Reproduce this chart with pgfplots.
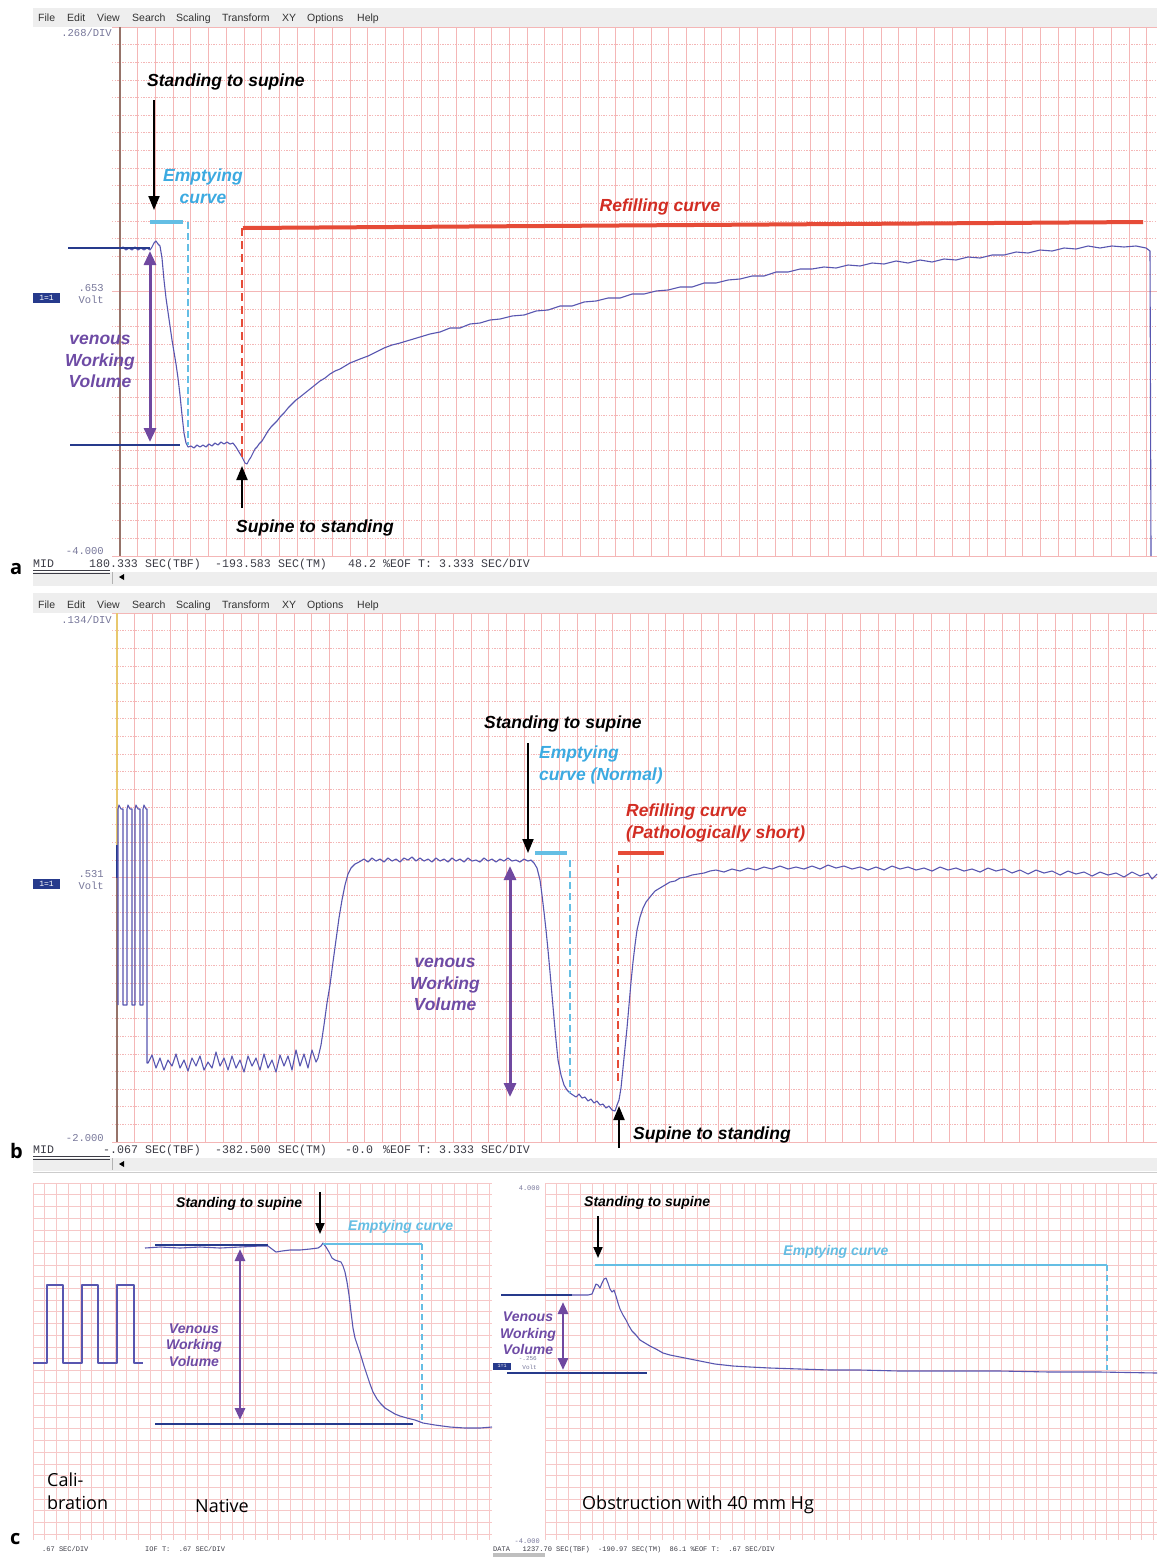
\documentclass[border=0pt]{standalone}
\usepackage{pgfplots}
\pgfplotsset{compat=1.18}
\usetikzlibrary{arrows.meta}
\usepackage{fontspec}
\setmainfont{Liberation Sans}
\newfontfamily\mono{Liberation Mono}
\newfontfamily\lab{Open Sans}

\definecolor{trace}{RGB}{88,86,176}
\definecolor{navy}{RGB}{38,58,140}
\definecolor{vpurple}{RGB}{112,72,160}
\definecolor{vtext}{RGB}{110,75,165}
\definecolor{cyanl}{RGB}{100,190,228}
\definecolor{cyant}{RGB}{60,170,225}
\definecolor{redl}{RGB}{230,75,55}
\definecolor{redt}{RGB}{210,45,35}
\definecolor{gridp}{RGB}{244,182,182}
\definecolor{gridc}{RGB}{246,200,200}
\definecolor{axbrown}{RGB}{150,115,105}
\definecolor{axyellow}{RGB}{232,200,110}
\definecolor{bargray}{RGB}{238,238,238}
\definecolor{labgray}{RGB}{120,120,155}
\definecolor{menugray}{RGB}{50,50,50}
\definecolor{stat}{RGB}{60,60,70}

\pgfplotsset{
  panel/.style={scale only axis, y dir=reverse, clip=false,
    axis line style={draw=none}, tick style={draw=none},
    major tick length=0pt, minor tick length=0pt,
    xticklabels={}, yticklabels={}, scaled ticks=false, grid=both,
    major grid style={gridp, line width=0.75pt},
    minor grid style={gridp, line width=0.7pt, dash pattern=on 1.3pt off 1.3pt}},
  cpanel/.style={panel, major grid style={gridc, line width=0.6pt}},
  tr/.style={draw=trace, line width=1.1pt, no marks, line join=round},
}
\newcommand{\ann}{\bfseries\itshape\fontsize{17.5}{21}\selectfont}
\newcommand{\annc}{\bfseries\itshape\fontsize{14}{16.5}\selectfont}
\newcommand{\stf}{\mono\fontsize{11.6}{11.6}\selectfont}
\newcommand{\lbf}{\mono\fontsize{10.5}{10.5}\selectfont}

\begin{document}
\begin{tikzpicture}[every node/.style={inner sep=0pt}]
\begin{scope}[x=1pt,y=-1pt]
\path[use as bounding box] (0,0) rectangle (1157,1557);
\fill[white] (0,0) rectangle (1157,1557);
% window bars
\fill[bargray] (33,8) rectangle (1157,27);
\fill[bargray] (33,572) rectangle (1157,586);
\fill[bargray] (33,593) rectangle (1157,613);
\fill[bargray] (33,1158) rectangle (1157,1171);
\draw[gray!60, line width=0.8pt] (112,572) -- (112,584);
\draw[gray!60, line width=0.8pt] (112,1158) -- (112,1170);
\fill[black] (119,577) -- (124,574) -- (124,580) -- cycle;
\fill[black] (119,1164) -- (124,1161) -- (124,1167) -- cycle;
\foreach \x/\w in {38/File,67/Edit,97/View,132/Search,176/Scaling,222/Transform,282/XY,307/Options,357/Help}{
  \node[anchor=base west, font=\fontsize{10.5}{10.5}\selectfont, text=menugray] at (\x,22) {\w};
  \node[anchor=base west, font=\fontsize{10.5}{10.5}\selectfont, text=menugray] at (\x,608) {\w};
}
% panel labels
\node[anchor=base west, font=\lab\bfseries\fontsize{20}{20}\selectfont] at (10,574) {a};
\node[anchor=base west, font=\lab\bfseries\fontsize{20}{20}\selectfont] at (10,1158) {b};
\node[anchor=base west, font=\lab\bfseries\fontsize{20}{20}\selectfont] at (10,1544) {c};
% panel a side labels
\node[anchor=base east, font=\lbf, text=labgray] at (112,37) {.268/DIV};
\node[anchor=base east, font=\lbf, text=labgray] at (104,291) {.653};
\node[anchor=base east, font=\lbf, text=labgray] at (104,303) {Volt};
\node[anchor=base east, font=\lbf, text=labgray] at (104,554) {-4.000};
\node[fill=navy, text=white, font=\mono\fontsize{8}{8}\selectfont, minimum width=27pt, minimum height=10pt] at (46.5,298) {1=1};
% panel b side labels
\node[anchor=base east, font=\lbf, text=labgray] at (112,623) {.134/DIV};
\node[anchor=base east, font=\lbf, text=labgray] at (104,877) {.531};
\node[anchor=base east, font=\lbf, text=labgray] at (104,889) {Volt};
\node[anchor=base east, font=\lbf, text=labgray] at (104,1141) {-2.000};
\node[fill=navy, text=white, font=\mono\fontsize{8}{8}\selectfont, minimum width=27pt, minimum height=10pt] at (46.5,884) {1=1};
% status bar a
\foreach \y in {567}{
\node[anchor=base west, font=\stf, text=stat] at (33,\y) {MID};
\node[anchor=base west, font=\stf, text=stat] at (89,\y) {180.333};
\node[anchor=base west, font=\stf, text=stat] at (145,\y) {SEC(TBF)};
\node[anchor=base west, font=\stf, text=stat] at (215,\y) {-193.583};
\node[anchor=base west, font=\stf, text=stat] at (278,\y) {SEC(TM)};
\node[anchor=base west, font=\stf, text=stat] at (348,\y) {48.2};
\node[anchor=base west, font=\stf, text=stat] at (383,\y) {\%EOF};
\node[anchor=base west, font=\stf, text=stat] at (418,\y) {T:};
\node[anchor=base west, font=\stf, text=stat] at (439,\y) {3.333};
\node[anchor=base west, font=\stf, text=stat] at (481,\y) {SEC/DIV};
}
\draw[stat, line width=0.6pt] (33,570) -- (110,570) (33,573) -- (110,573);
% status bar b
\foreach \y in {1153}{
\node[anchor=base west, font=\stf, text=stat] at (33,\y) {MID};
\node[anchor=base west, font=\stf, text=stat] at (103,\y) {-.067};
\node[anchor=base west, font=\stf, text=stat] at (145,\y) {SEC(TBF)};
\node[anchor=base west, font=\stf, text=stat] at (215,\y) {-382.500};
\node[anchor=base west, font=\stf, text=stat] at (278,\y) {SEC(TM)};
\node[anchor=base west, font=\stf, text=stat] at (345,\y) {-0.0};
\node[anchor=base west, font=\stf, text=stat] at (383,\y) {\%EOF};
\node[anchor=base west, font=\stf, text=stat] at (418,\y) {T:};
\node[anchor=base west, font=\stf, text=stat] at (439,\y) {3.333};
\node[anchor=base west, font=\stf, text=stat] at (481,\y) {SEC/DIV};
}
\draw[stat, line width=0.6pt] (33,1156) -- (110,1156) (33,1159) -- (110,1159);
\draw[gray!40, line width=0.8pt] (33,1172) -- (1157,1172);
% status bar c
\node[anchor=base west, font=\mono\fontsize{7}{7}\selectfont, text=stat] at (42,1551) {.67 SEC/DIV};
\node[anchor=base west, font=\mono\fontsize{7}{7}\selectfont, text=stat] at (145,1551) {IOF T:\ \ .67 SEC/DIV};
\node[anchor=base west, font=\mono\fontsize{7}{7}\selectfont, text=stat] at (493,1551) {DATA\ \ \ 1237.70 SEC(TBF)\ \ -190.97 SEC(TM)\ \ 86.1 \%EOF T:\ \ .67 SEC/DIV};
\fill[gray!50] (493,1553) rectangle (545,1557);
\end{scope}

% ================= PANEL A =================
\begin{axis}[panel, at={(112pt,-27pt)}, anchor=north west, width=1045pt, height=529pt,
  xmin=112, xmax=1157, ymin=27, ymax=556,
  xtick={120,137.7,...,1157}, ytick={27,291.5,556}, minor ytick={44.633,62.267,...,540}]
\draw[axbrown, line width=1.2pt] (120,27) -- (120,556);
\addplot[tr] coordinates {(120,249)(123,247)(126,250)(129,248)(132,250)(135,247)(138,250)(141,248)(144,250)(147,248)(150,250)(152,247)(154,243)(156,241)(158,244)(160,246)(162,258)(164,280)(166,298)(168,312)(170,326)(172,340)(174,352)(176,364)(178,378)(180,395)(182,415)(184,433)(186,443)(188,447)(191,446)(194,448)(197,445)(200,447)(203,445)(206,447)(209,444)(212,446)(215,443)(218,445)(221,442)(224,444)(227,442)(230,444)(233,443)(236,447)(239,452)(242,457)(245,463)(247,464)(249,460)(251,457)(253,453)(255,449)(257,447)(259,444)(262,441)(265,436)(268,431)(271,427)(274,424)(277,421)(280,417)(284,413)(288,408)(292,404)(296,400)(300,397)(305,393)(310,389)(315,385)(320,381)(325,378)(330,374)(335,371)(340,369)(345,366)(350,363)(355,361)(360,359)(368,356)(376,352)(384,348)(392,345)(400,343)(410,340)(420,337)(430,334)(440,332)(450,328)(460,328)(470,324)(480,323)(490,320)(500,319)(512,316)(524,315)(536,311)(548,310)(560,306)(572,306)(584,302)(596,301)(608,298)(620,298)(632,294)(644,294)(656,291)(668,290)(680,287)(692,287)(704,283)(716,283)(728,280)(740,279)(752,276)(764,276)(776,272)(788,272)(800,269)(812,269)(824,267)(836,268)(848,265)(860,266)(872,263)(884,264)(896,261)(908,263)(920,260)(932,262)(944,259)(956,260)(968,257)(980,258)(992,255)(1004,255)(1016,252)(1028,253)(1040,250)(1052,251)(1064,248)(1076,249)(1088,246)(1100,248)(1112,246)(1124,247)(1136,246)(1146,248)(1150,251)(1151,556)};
\draw[navy, line width=2.5pt] (68,248) -- (150,248);
\draw[navy, line width=2.5pt] (70,445) -- (180,445);
\draw[vpurple, line width=3pt, {Triangle[width=12pt,length=14pt]}-{Triangle[width=12pt,length=14pt]}] (150,251) -- (150,442);
\draw[cyanl, line width=3.5pt] (150,222) -- (183,222);
\draw[cyanl, line width=2pt, dash pattern=on 7pt off 4pt] (188,222) -- (188,445);
\draw[redl, line width=4pt] (243,228) -- (1143,222);
\draw[redl, line width=2.2pt, dash pattern=on 8pt off 5pt] (242,228) -- (242,460);
\draw[black, line width=2pt, -{Triangle[width=11pt,length=14pt]}] (154,100) -- (154,210);
\draw[black, line width=2pt, -{Triangle[width=11pt,length=14pt]}] (242,508) -- (242,466);
\node[anchor=base west, font=\ann] at (147,86) {Standing to supine};
\node[anchor=base, font=\ann, text=cyant] at (203,181) {Emptying};
\node[anchor=base, font=\ann, text=cyant] at (203,203) {curve};
\node[anchor=base, font=\ann, text=redt] at (660,211) {Refilling curve};
\node[anchor=base, font=\ann, text=vtext] at (100,344) {venous};
\node[anchor=base, font=\ann, text=vtext] at (100,366) {Working};
\node[anchor=base, font=\ann, text=vtext] at (100,387) {Volume};
\node[anchor=base west, font=\ann] at (236,532) {Supine to standing};
\end{axis}

% ================= PANEL B =================
\begin{axis}[panel, at={(112pt,-613pt)}, anchor=north west, width=1045pt, height=529pt,
  xmin=112, xmax=1157, ymin=613, ymax=1142,
  xtick={117,134.7,...,1157}, ytick={613,877.5,1142}, minor ytick={630.633,648.267,...,1126}]
\draw[axyellow, line width=1.2pt] (117,613) -- (117,845);
\draw[navy, line width=1.2pt] (117,845) -- (117,878);
\draw[axbrown, line width=1.2pt] (117,878) -- (117,1142);
\addplot[tr] coordinates {(118,1005)(118,809)(119,805)(121,809)(123,809)(123,1005)(127,1005)(127,809)(128,805)(130,809)(132,809)(132,1005)(135,1005)(135,809)(136,805)(138,809)(140,809)(140,1005)(143,1005)(143,809)(144,805)(146,809)(147,809)(147,1063)(148,1063)(152,1055)(156,1068)(160,1058)(164,1070)(168,1060)(172,1066)(176,1054)(180,1068)(184,1060)(188,1071)(192,1058)(196,1066)(200,1056)(204,1070)(208,1062)(212,1068)(216,1052)(220,1066)(224,1058)(228,1070)(232,1056)(236,1068)(240,1060)(244,1072)(248,1056)(252,1066)(256,1058)(260,1070)(264,1054)(268,1068)(272,1060)(276,1072)(280,1055)(284,1066)(288,1056)(292,1070)(296,1050)(300,1066)(304,1054)(308,1068)(312,1050)(316,1062)(318,1058)(321,1045)(324,1025)(327,1003)(330,985)(333,962)(336,940)(339,918)(342,900)(345,885)(348,874)(351,868)(355,864)(359,862)(364,859)(368,862)(372,858)(376,861)(380,859)(384,862)(388,858)(392,861)(396,859)(400,862)(404,858)(408,860)(412,857)(416,861)(420,858)(424,861)(428,859)(432,862)(436,858)(440,861)(444,859)(448,862)(452,858)(456,861)(460,859)(464,862)(468,858)(472,861)(476,860)(480,862)(484,858)(488,861)(492,859)(496,862)(500,859)(504,861)(508,858)(512,861)(516,860)(520,862)(524,859)(528,861)(531,860)(534,863)(537,868)(540,880)(542,895)(544,912)(546,930)(548,950)(550,972)(552,995)(554,1018)(556,1040)(558,1060)(561,1075)(564,1085)(567,1090)(570,1093)(573,1095)(576,1097)(579,1094)(582,1098)(585,1097)(588,1101)(591,1099)(594,1103)(597,1101)(600,1105)(603,1104)(606,1108)(609,1106)(612,1110)(615,1111)(617,1105)(619,1100)(621,1088)(623,1068)(625,1048)(627,1028)(629,1005)(631,982)(633,962)(635,945)(637,930)(640,917)(643,908)(646,902)(650,897)(655,891)(660,888)(665,885)(670,882)(675,881)(680,878)(686,877)(692,875)(698,874)(704,873)(710,871)(716,870)(724,872)(732,869)(740,871)(748,868)(756,870)(764,867)(772,869)(780,866)(788,869)(796,867)(804,869)(812,866)(820,869)(828,865)(836,868)(844,866)(852,869)(860,867)(868,870)(876,867)(884,870)(892,866)(900,869)(908,867)(916,870)(924,868)(932,871)(940,867)(948,870)(956,868)(964,871)(972,869)(980,872)(988,868)(996,871)(1004,869)(1012,873)(1020,870)(1028,874)(1036,870)(1044,873)(1052,871)(1060,875)(1068,871)(1076,874)(1084,872)(1092,876)(1100,872)(1108,875)(1116,873)(1124,877)(1132,872)(1140,876)(1148,873)(1152,879)(1157,874)};
\draw[vpurple, line width=3pt, {Triangle[width=12pt,length=14pt]}-{Triangle[width=12pt,length=14pt]}] (510,866) -- (510,1097);
\draw[cyanl, line width=3.5pt] (535,853) -- (567,853);
\draw[cyanl, line width=2pt, dash pattern=on 7pt off 4pt] (570,860) -- (570,1093);
\draw[redl, line width=4pt] (618,853) -- (664,853);
\draw[redl, line width=2.2pt, dash pattern=on 8pt off 5pt] (618,865) -- (618,1083);
\draw[black, line width=2pt, -{Triangle[width=11pt,length=14pt]}] (528,743) -- (528,853);
\draw[black, line width=2pt, -{Triangle[width=11pt,length=14pt]}] (619,1148) -- (619,1106);
\node[anchor=base west, font=\ann] at (484,728) {Standing to supine};
\node[anchor=base west, font=\ann, text=cyant] at (539,758) {Emptying};
\node[anchor=base west, font=\ann, text=cyant] at (539,780) {curve (Normal)};
\node[anchor=base west, font=\ann, text=redt] at (626,816) {Refilling curve};
\node[anchor=base west, font=\ann, text=redt] at (626,838) {(Pathologically short)};
\node[anchor=base, font=\ann, text=vtext] at (445,967) {venous};
\node[anchor=base, font=\ann, text=vtext] at (445,989) {Working};
\node[anchor=base, font=\ann, text=vtext] at (445,1010) {Volume};
\node[anchor=base west, font=\ann] at (633,1139) {Supine to standing};
\end{axis}

% ================= PANEL C left =================
\begin{axis}[cpanel, at={(33pt,-1183pt)}, anchor=north west, width=459pt, height=357pt,
  xmin=33, xmax=492, ymin=1183, ymax=1540,
  xtick={33,44.7,...,492}, ytick={1183,1194.7,...,1540}]
\addplot[tr] coordinates {(33,1363)(47,1363)(47,1285)(63,1285)(63,1363)(82,1363)(82,1285)(98,1285)(98,1363)(117,1363)(117,1285)(134,1285)(134,1363)(143,1363)};
\addplot[tr] coordinates {(145,1248)(160,1247)(180,1248)(200,1247)(220,1248)(240,1247)(260,1246)(268,1246)(272,1249)(276,1252)(282,1251)(290,1250)(300,1250)(310,1249)(318,1248)(321,1246)(323,1243)(326,1247)(329,1252)(332,1258)(335,1260)(338,1261)(341,1262)(343,1266)(345,1272)(347,1282)(349,1295)(351,1312)(353,1328)(355,1338)(358,1347)(361,1356)(364,1366)(367,1375)(370,1384)(373,1392)(377,1399)(381,1404)(385,1408)(390,1411)(395,1414)(400,1416)(407,1418)(415,1420)(423,1423)(435,1425)(450,1427)(465,1428)(480,1428)(492,1427)};
\draw[navy, line width=2.5pt] (155,1245) -- (268,1245);
\draw[navy, line width=2.5pt] (155,1424) -- (413,1424);
\draw[vpurple, line width=2.8pt, {Triangle[width=10pt,length=12pt]}-{Triangle[width=10pt,length=12pt]}] (240,1249) -- (240,1420);
\draw[cyanl, line width=2pt] (323,1244) -- (422,1244);
\draw[cyanl, line width=1.8pt, dash pattern=on 6pt off 4pt] (422,1244) -- (422,1420);
\draw[black, line width=1.8pt, -{Triangle[width=9pt,length=11pt]}] (320,1192) -- (320,1234);
\node[anchor=base west, font=\annc] at (176,1207) {Standing to supine};
\node[anchor=base west, font=\annc, text=cyanl] at (348,1230) {Emptying curve};
\node[anchor=base, font=\annc, text=vtext] at (194,1333) {Venous};
\node[anchor=base, font=\annc, text=vtext] at (194,1349) {Working};
\node[anchor=base, font=\annc, text=vtext] at (194,1366) {Volume};
\node[anchor=base west, font=\lab\fontsize{18}{18}\selectfont] at (47,1486) {Cali-};
\node[anchor=base west, font=\lab\fontsize{18}{18}\selectfont] at (47,1509) {bration};
\node[anchor=base west, font=\lab\fontsize{18}{18}\selectfont] at (195,1512) {Native};
\end{axis}

% ================= PANEL C right =================
\begin{axis}[cpanel, at={(545pt,-1183pt)}, anchor=north west, width=612pt, height=357pt,
  xmin=545, xmax=1157, ymin=1183, ymax=1540,
  xtick={545,556.7,...,1157}, ytick={1183,1194.7,...,1540}]
\addplot[tr] coordinates {(572,1295)(580,1295)(588,1295)(592,1294)(594,1289)(596,1284)(598,1285)(600,1288)(602,1283)(604,1279)(606,1278)(608,1283)(610,1289)(612,1292)(614,1290)(616,1296)(618,1303)(620,1309)(623,1315)(626,1320)(629,1326)(632,1331)(636,1335)(640,1340)(645,1343)(650,1346)(656,1349)(663,1353)(670,1355)(680,1357)(690,1359)(700,1361)(715,1364)(733,1366)(750,1367)(770,1368)(800,1369)(830,1370)(860,1370)(900,1371)(950,1371)(1000,1371)(1050,1372)(1100,1372)(1157,1373)};
\draw[navy, line width=2.5pt] (501,1295) -- (572,1295);
\draw[navy, line width=2.5pt] (507,1373) -- (647,1373);
\draw[vpurple, line width=2.8pt, {Triangle[width=10pt,length=12pt]}-{Triangle[width=10pt,length=12pt]}] (563,1302) -- (563,1370);
\draw[cyanl, line width=2pt] (595,1265) -- (1107,1265);
\draw[cyanl, line width=1.8pt, dash pattern=on 6pt off 4pt] (1107,1265) -- (1107,1370);
\draw[black, line width=1.8pt, -{Triangle[width=9pt,length=11pt]}] (598,1216) -- (598,1258);
\node[anchor=base west, font=\annc] at (584,1206) {Standing to supine};
\node[anchor=base, font=\annc, text=cyanl] at (836,1255) {Emptying curve};
\node[anchor=base, font=\annc, text=vtext] at (528,1321) {Venous};
\node[anchor=base, font=\annc, text=vtext] at (528,1338) {Working};
\node[anchor=base, font=\annc, text=vtext] at (528,1354) {Volume};
\node[anchor=base east, font=\mono\fontsize{6}{6}\selectfont, text=labgray] at (537,1360) {-.256};
\node[anchor=base east, font=\mono\fontsize{6}{6}\selectfont, text=labgray] at (537,1369) {Volt};
\node[fill=navy, text=white, font=\mono\fontsize{5}{5}\selectfont, minimum width=18pt, minimum height=7pt] at (502,1366) {1=1};
\node[anchor=base west, font=\lab\fontsize{18}{18}\selectfont] at (582,1509) {Obstruction with 40 mm Hg};
\node[anchor=base east, font=\mono\fontsize{7}{7}\selectfont, text=labgray] at (540,1190) {4.000};
\node[anchor=base east, font=\mono\fontsize{7}{7}\selectfont, text=labgray] at (540,1543) {-4.000};
\end{axis}
\end{tikzpicture}
\end{document}
